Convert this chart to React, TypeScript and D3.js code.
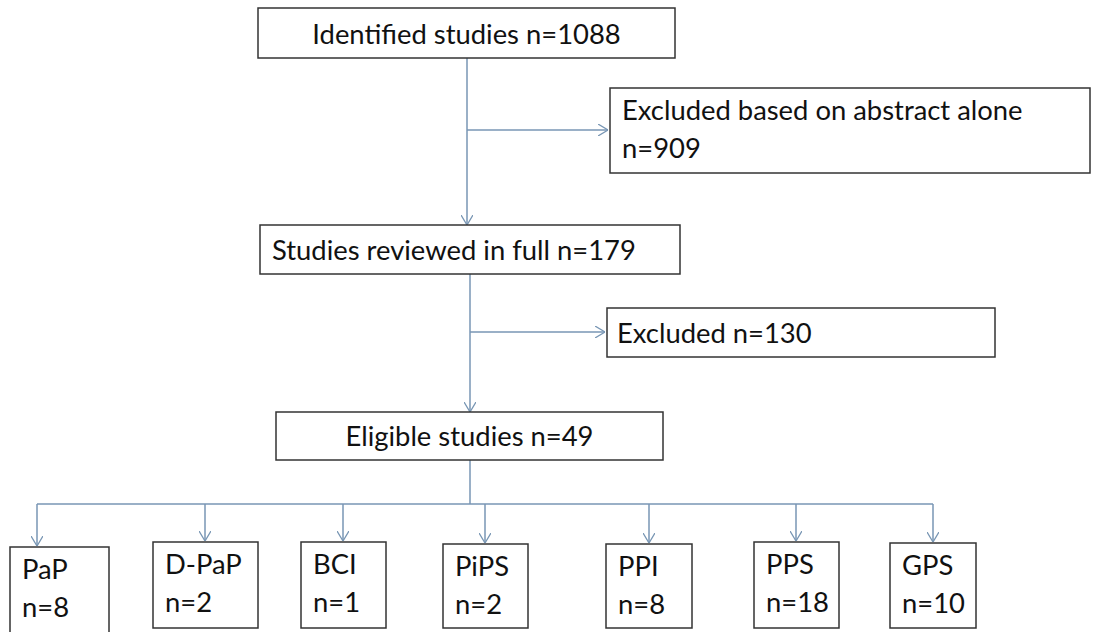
import { useEffect, useRef } from 'react';
import * as d3 from 'd3';

// flow stages
const stageLabels = ['Identified studies', 'Studies reviewed in full', 'Eligible studies'];
const stageCounts = [1088, 179, 49];

// exclusions between stages
const exclusionLabels = ['Excluded based on abstract alone', 'Excluded'];
const exclusionCounts = [909, 130];

// final categories
const categories = ['PaP', 'D-PaP', 'BCI', 'PiPS', 'PPI', 'PPS', 'GPS'];
const categoryCounts = [8, 2, 1, 2, 8, 18, 10];

// layout (kept apart from the data)
const stageBoxes = [
  { x: 258, y: 8, w: 417, h: 50, align: 'middle', dy: 11 },
  { x: 260, y: 225, w: 420, h: 49, align: 'start', dy: 10 },
  { x: 276, y: 412, w: 387, h: 48, align: 'middle', dy: 10 },
];
const exclusionBoxes = [
  { x: 610, y: 88, w: 480, h: 85, branchY: 130, twoLine: true },
  { x: 607, y: 308, w: 388, h: 49, branchY: 332, twoLine: false },
];
const categoryCenters = [37, 205, 343, 485, 649, 796, 933];
const categoryBoxes = [
  { x: 10, w: 99, top: 547 },
  { x: 153, w: 105, top: 542 },
  { x: 301, w: 85, top: 542 },
  { x: 443, w: 85, top: 544 },
  { x: 606, w: 86, top: 544 },
  { x: 754, w: 85, top: 542 },
  { x: 890, w: 86, top: 543 },
];

export default function App() {
  const ref = useRef<SVGSVGElement>(null);

  useEffect(() => {
    if (!ref.current) return;
    const svg = d3.select(ref.current);
    svg.selectAll('*').remove();

    const width = 1097;
    const height = 632;
    const lineColor = '#7896b4';
    const boxColor = '#333333';
    const font = 'Lato, "Open Sans", sans-serif';
    const fontSize = 27.4;

    svg.attr('width', width).attr('height', height);
    svg.append('rect').attr('width', width).attr('height', height).attr('fill', '#fff');

    const defs = svg.append('defs');
    defs.append('marker')
      .attr('id', 'arr')
      .attr('viewBox', '0 0 10 12')
      .attr('refX', 10)
      .attr('refY', 6)
      .attr('markerWidth', 10)
      .attr('markerHeight', 12)
      .attr('markerUnits', 'userSpaceOnUse')
      .attr('orient', 'auto')
      .append('path')
      .attr('d', 'M0,0 L10,6 L0,12')
      .attr('fill', 'none')
      .attr('stroke', lineColor)
      .attr('stroke-width', 1.3);

    const line = d3.line<[number, number]>();
    const connector = (pts: [number, number][], arrow = true) =>
      svg.append('path')
        .attr('d', line(pts))
        .attr('fill', 'none')
        .attr('stroke', lineColor)
        .attr('stroke-width', 1.5)
        .attr('marker-end', arrow ? 'url(#arr)' : null);

    // spine
    const spineTop = 467;
    const spineLow = 470;
    connector([[spineTop, stageBoxes[0].y + stageBoxes[0].h], [spineTop, stageBoxes[1].y]]);
    connector([[spineLow, stageBoxes[1].y + stageBoxes[1].h], [spineLow, stageBoxes[2].y]]);

    // exclusion branches
    exclusionBoxes.forEach((b, i) => {
      const sx = i === 0 ? spineTop : spineLow;
      connector([[sx, b.branchY], [b.x - 2, b.branchY]]);
    });

    // split to categories
    const splitY = 504;
    const cx = d3.scaleOrdinal<string, number>().domain(categories).range(categoryCenters);
    connector([[spineLow, stageBoxes[2].y + stageBoxes[2].h], [spineLow, splitY]], false);
    connector([[cx(categories[0]), splitY], [cx(categories[categories.length - 1]), splitY]], false);
    categories.forEach((c, i) => {
      connector([[cx(c), splitY], [cx(c), categoryBoxes[i].top - 1]]);
    });

    const box = (x: number, y: number, w: number, h: number) =>
      svg.append('rect')
        .attr('x', x).attr('y', y).attr('width', w).attr('height', h)
        .attr('fill', '#fff')
        .attr('stroke', boxColor)
        .attr('stroke-width', 1.5);

    const text = (x: number, y: number, s: string, anchor = 'start') =>
      svg.append('text')
        .attr('x', x).attr('y', y)
        .attr('text-anchor', anchor)
        .attr('font-family', font)
        .attr('font-size', fontSize)
        .attr('fill', '#111')
        .text(s);

    // stage boxes
    stageLabels.forEach((label, i) => {
      const b = stageBoxes[i];
      box(b.x, b.y, b.w, b.h);
      const s = `${label} n=${stageCounts[i]}`;
      const ty = b.y + b.h / 2 + b.dy;
      if (b.align === 'middle') text(b.x + b.w / 2, ty, s, 'middle');
      else text(b.x + 12, ty, s);
    });

    // exclusion boxes
    exclusionLabels.forEach((label, i) => {
      const b = exclusionBoxes[i];
      box(b.x, b.y, b.w, b.h);
      if (b.twoLine) {
        text(b.x + 12, b.y + 32, label);
        text(b.x + 12, b.y + 70, `n=${exclusionCounts[i]}`);
      } else {
        text(b.x + 10, b.y + b.h / 2 + 10, `${label} n=${exclusionCounts[i]}`);
      }
    });

    // category boxes
    categories.forEach((c, i) => {
      const b = categoryBoxes[i];
      box(b.x, b.top, b.w, 628 - b.top + (i === 0 ? 20 : 0));
      text(b.x + 12, b.top + 32, c);
      text(b.x + 12, b.top + 70, `n=${categoryCounts[i]}`);
    });
  }, []);

  return (
    <div style={{ position: 'fixed', left: 0, top: 0 }}>
      <svg ref={ref} style={{ display: 'block' }} />
    </div>
  );
}
